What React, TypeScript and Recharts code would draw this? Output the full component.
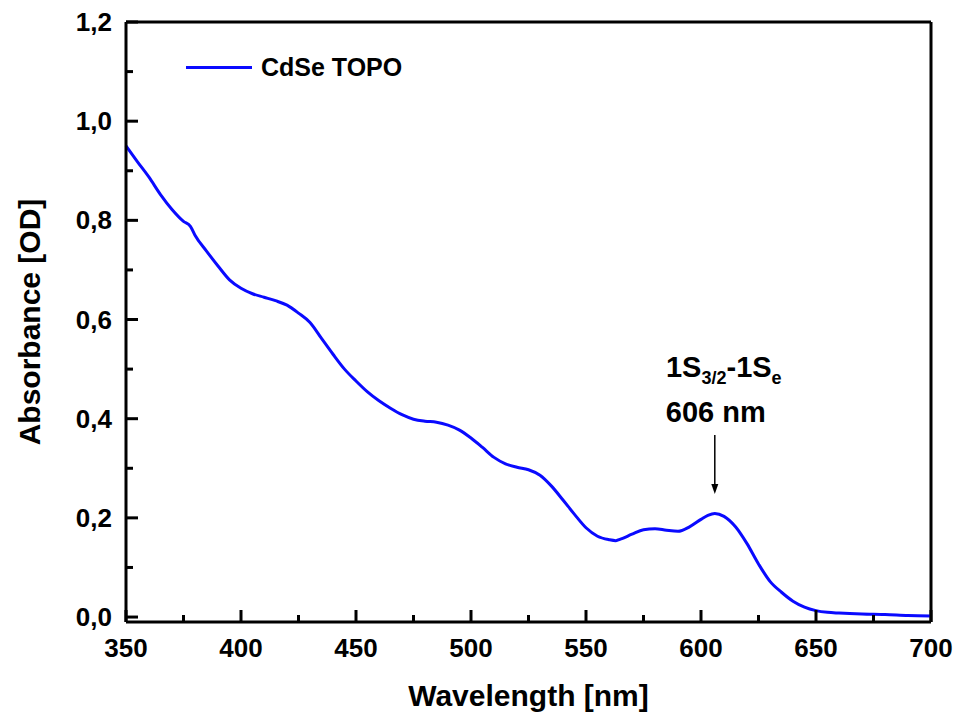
import React from "react";
import { LineChart, Line, XAxis, YAxis, ReferenceLine } from "recharts";

// absorption spectrum
const wavelengths = [
  350, 355, 360, 365, 370, 375, 378, 380, 385, 390, 395, 400, 405, 410, 415, 420, 425, 430, 435, 440,
  445, 450, 455, 460, 465, 470, 475, 480, 485, 490, 495, 500, 505, 510, 515, 520, 525, 530, 535, 540,
  545, 550, 555, 560, 563, 565, 570, 575, 580, 585, 590, 595, 600, 603, 606, 610, 615, 620, 625, 630,
  635, 640, 645, 650, 655, 660, 670, 680, 690, 700,
];
const absorbance = [
  0.95, 0.918, 0.887, 0.852, 0.822, 0.798, 0.788, 0.77, 0.738, 0.708, 0.68, 0.663, 0.652, 0.645, 0.638, 0.629, 0.613, 0.594, 0.562, 0.53,
  0.5, 0.476, 0.454, 0.436, 0.421, 0.408, 0.399, 0.395, 0.393, 0.387, 0.377, 0.361, 0.342, 0.322, 0.309, 0.302, 0.297, 0.286, 0.264, 0.236,
  0.207, 0.18, 0.163, 0.156, 0.154, 0.157, 0.167, 0.176, 0.178, 0.175, 0.173, 0.182, 0.197, 0.205, 0.209, 0.203, 0.182, 0.148, 0.107, 0.072,
  0.05, 0.032, 0.02, 0.013, 0.0095, 0.008, 0.006, 0.005, 0.003, 0.002,
];
const xTicks = [350, 375, 400, 425, 450, 475, 500, 525, 550, 575, 600, 625, 650, 675, 700];
const yTicks = [0, 0.1, 0.2, 0.3, 0.4, 0.5, 0.6, 0.7, 0.8, 0.9, 1.0, 1.1, 1.2];
const seriesName = "CdSe TOPO";
const peakWl = 606;

const data = wavelengths.map((wl, i) => ({ wl, abs: absorbance[i] }));

const FONT = '"Liberation Sans", Arial, sans-serif';
const BLUE = "#0a0aff";

function XTick({ x, y, payload }: any) {
  const major = payload.value % 50 === 0;
  return (
    <g>
      <line x1={x} x2={x} y1={y} y2={y - (major ? 12 : 7)} stroke="#000" strokeWidth={3} />
      {major && (
        <text x={x} y={y + 35} textAnchor="middle" fontSize={26} fontWeight="bold" fontFamily={FONT} fill="#000">
          {payload.value}
        </text>
      )}
    </g>
  );
}

function YTick({ x, y, payload }: any) {
  const major = Math.round(payload.value * 10) % 2 === 0;
  return (
    <g>
      <line x1={x} x2={x + (major ? 12 : 7)} y1={y} y2={y} stroke="#000" strokeWidth={3} />
      {major && (
        <text x={x - 14} y={y + 9} textAnchor="end" fontSize={26} fontWeight="bold" fontFamily={FONT} fill="#000">
          {payload.value.toFixed(1).replace(".", ",")}
        </text>
      )}
    </g>
  );
}

function PeakArrow({ x1, y1, y2 }: any) {
  return (
    <g fontFamily={FONT} fontWeight="bold" fill="#000">
      <line x1={x1} x2={x1} y1={y1} y2={y2 - 8} stroke="#000" strokeWidth={1.5} />
      <polygon points={`${x1 - 3.5},${y2 - 10} ${x1 + 3.5},${y2 - 10} ${x1},${y2}`} fill="#000" />
      <text x={x1 + 9} y={y1 - 58} textAnchor="middle" fontSize={29}>
        1S<tspan fontSize={18} dy={7}>3/2</tspan>
        <tspan dy={-7}>-1S</tspan>
        <tspan fontSize={18} dy={7}>e</tspan>
      </text>
      <text x={x1 + 1} y={y1 - 13} textAnchor="middle" fontSize={29}>
        {peakWl} nm
      </text>
    </g>
  );
}

export default function App() {
  return (
    <div style={{ position: "absolute", left: 0, top: 0, width: 957, height: 715, background: "#fff" }}>
      <LineChart width={957} height={715} data={data} margin={{ top: 22, right: 26, left: 0, bottom: 0 }}>
        <XAxis
          dataKey="wl"
          type="number"
          domain={[350, 700]}
          ticks={xTicks}
          interval={0}
          tick={<XTick />}
          tickLine={false}
          tickSize={0}
          tickMargin={0}
          height={93}
          axisLine={{ stroke: "#000", strokeWidth: 3 }}
          label={{
            value: "Wavelength [nm]",
            position: "insideBottom",
            offset: 9,
            style: { fontSize: 30, fontWeight: "bold", fontFamily: FONT, fill: "#000" },
          }}
        />
        <YAxis
          type="number"
          domain={[-0.01, 1.2]}
          ticks={yTicks}
          interval={0}
          tick={<YTick />}
          tickLine={false}
          tickSize={0}
          tickMargin={0}
          width={126}
          axisLine={{ stroke: "#000", strokeWidth: 3 }}
          label={{
            value: "Absorbance [OD]",
            angle: -90,
            position: "insideLeft",
            offset: 29,
            style: { fontSize: 30, fontWeight: "bold", fontFamily: FONT, fill: "#000", textAnchor: "middle" },
          }}
        />
        <ReferenceLine y={1.2} stroke="#000" strokeWidth={3} />
        <ReferenceLine x={700} stroke="#000" strokeWidth={3} />
        <ReferenceLine
          segment={[
            { x: peakWl, y: 0.367 },
            { x: peakWl, y: 0.248 },
          ]}
          shape={(p: any) => <PeakArrow {...p} />}
        />
        <Line
          type="monotone"
          dataKey="abs"
          stroke={BLUE}
          strokeWidth={3}
          dot={false}
          isAnimationActive={false}
        />
      </LineChart>
      <div
        style={{
          position: "absolute",
          left: 186,
          top: 53,
          display: "flex",
          alignItems: "center",
          fontFamily: FONT,
          fontWeight: "bold",
          fontSize: 25,
          color: "#000",
        }}
      >
        <span style={{ display: "inline-block", width: 66, height: 3, background: BLUE, marginRight: 9 }} />
        {seriesName}
      </div>
    </div>
  );
}
